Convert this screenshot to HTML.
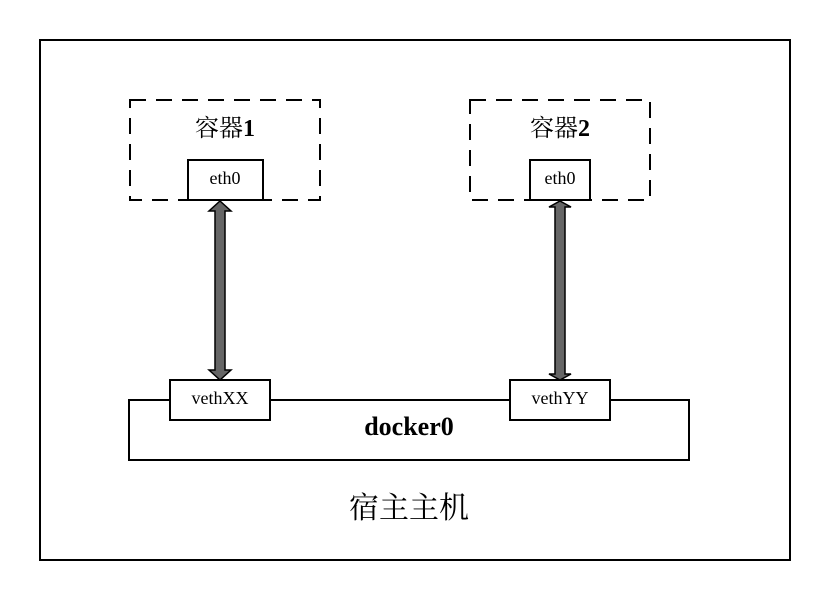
<!DOCTYPE html>
<html><head><meta charset="utf-8"><style>body{margin:0;background:#fff}</style></head><body>
<svg width="830" height="600" xmlns="http://www.w3.org/2000/svg" font-family="'Liberation Serif','Noto Serif CJK SC',serif">
<rect x="40" y="40" width="750" height="520" fill="#fff" stroke="#000" stroke-width="2"/>
<rect x="130" y="100" width="190" height="100" fill="none" stroke="#000" stroke-width="2" stroke-dasharray="16,10"/>
<rect x="470" y="100" width="180" height="100" fill="none" stroke="#000" stroke-width="2" stroke-dasharray="16,10"/>
<text x="225" y="136" font-size="24" text-anchor="middle">容器<tspan font-weight="bold">1</tspan></text>
<text x="560" y="136" font-size="24" text-anchor="middle">容器<tspan font-weight="bold">2</tspan></text>
<rect x="188" y="160" width="75" height="40" fill="#fff" stroke="#000" stroke-width="2"/>
<rect x="530" y="160" width="60" height="40" fill="#fff" stroke="#000" stroke-width="2"/>
<text x="225" y="184" font-size="18" text-anchor="middle">eth0</text>
<text x="560" y="184" font-size="18" text-anchor="middle">eth0</text>
<rect x="129" y="400" width="560" height="60" fill="#fff" stroke="#000" stroke-width="2"/>
<text x="409" y="435" font-size="26" font-weight="bold" text-anchor="middle">docker0</text>
<rect x="170" y="380" width="100" height="40" fill="#fff" stroke="#000" stroke-width="2"/>
<rect x="510" y="380" width="100" height="40" fill="#fff" stroke="#000" stroke-width="2"/>
<text x="220" y="404" font-size="18" text-anchor="middle">vethXX</text>
<text x="560" y="404" font-size="18" text-anchor="middle">vethYY</text>
<polygon points="220,201 231,211 225,211 225,370 231,370 220,380 209,370 215,370 215,211 209,211" fill="#666" stroke="#000" stroke-width="1.5"/>
<polygon points="560,201 571,207 565,207 565,374 571,374 560,380 549,374 555,374 555,207 549,207" fill="#666" stroke="#000" stroke-width="1.5"/>
<text x="409" y="518" font-size="30" text-anchor="middle">宿主主机</text>
</svg>
</body></html>
